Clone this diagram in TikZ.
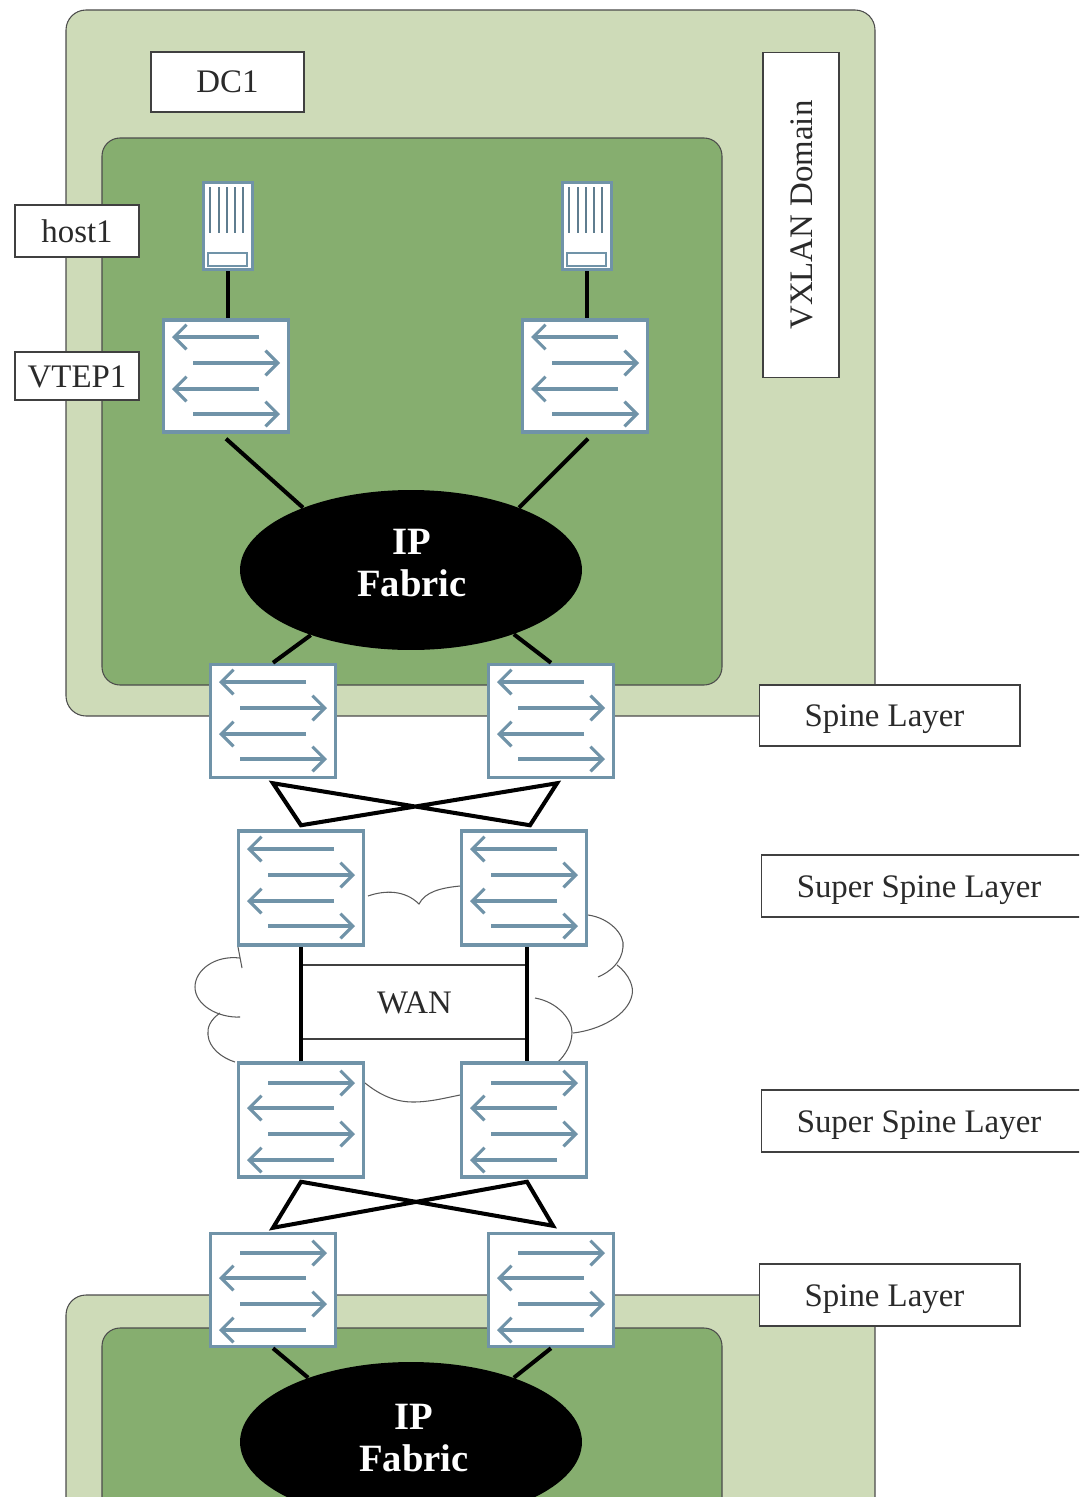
\documentclass[tikz,border=0pt]{standalone}
\usepackage{fontspec}
\setmainfont{Liberation Serif}
\usetikzlibrary{arrows.meta, positioning, shapes.geometric, calc}
\definecolor{dcouter}{HTML}{CEDBB8}
\definecolor{dcinner}{HTML}{86AE6F}
\definecolor{swblue}{HTML}{7093A8}
\definecolor{labeltext}{HTML}{2A2A2A}
\newcommand{\swleft}[2]{\draw[swarr] ($(#1)+(33,#2)$) -- ($(#1)+(-54,#2)$);}
\newcommand{\swright}[2]{\draw[swarr] ($(#1)+(-33,#2)$) -- ($(#1)+(54,#2)$);}

\begin{document}
\begin{tikzpicture}[
    x=0.02cm, y=-0.02cm,
    outerbox/.style={draw=black!70, line width=0.6pt, fill=dcouter, rounded corners=0.4cm},
    innerbox/.style={draw=black!70, line width=0.6pt, fill=dcinner, rounded corners=0.36cm},
    swbox/.style={draw=swblue, line width=2pt, fill=white, minimum width=2.5cm, minimum height=2.24cm, inner sep=0pt},
    hostbox/.style={draw=swblue, line width=1.8pt, fill=white, minimum width=0.98cm, minimum height=1.74cm, inner sep=0pt},
    swarr/.style={-{Straight Barb[length=7pt, width=14pt]}, line width=1.8pt, swblue},
    link/.style={line width=2.3pt, black},
    cloudline/.style={line width=0.6pt, black!65},
    lbl/.style={draw=black!75, line width=0.6pt, fill=white, text=labeltext, inner sep=0pt, text height=0.44cm, text depth=0cm, font=\fontsize{18.7}{22}\selectfont},
    fabric/.style={ellipse, fill=black, minimum width=6.84cm, minimum height=3.2cm, inner sep=0pt},
    fabrictext/.style={text=white, align=center, inner sep=0pt, font=\fontsize{22}{24}\selectfont\bfseries}
]
\clip (0, 0) rectangle (1079, 1497);

% ---- Data centre areas ----
\draw[outerbox] (66, 10) rectangle (875, 716);
\draw[innerbox] (102, 138) rectangle (722, 685);
\draw[outerbox] (66, 1295) rectangle (875, 1560);
\draw[innerbox] (102, 1328) rectangle (722, 1560);

% ---- WAN cloud ----
\draw[cloudline] (368, 896) .. controls (385, 890) and (405, 890) .. (419, 904)
    .. controls (425, 892) and (440, 888) .. (460, 886);
\draw[cloudline] (588, 915) .. controls (610, 918) and (625, 935) .. (623, 947)
    .. controls (622, 962) and (610, 972) .. (598, 977);
\draw[cloudline] (617, 965) .. controls (630, 975) and (634, 988) .. (632, 995)
    .. controls (628, 1015) and (600, 1030) .. (573, 1033);
\draw[cloudline] (535, 998) .. controls (558, 1002) and (572, 1020) .. (572, 1032)
    .. controls (572, 1045) and (565, 1055) .. (558, 1062);
\draw[cloudline] (365, 1083) .. controls (380, 1095) and (395, 1102) .. (413, 1102)
    .. controls (430, 1102) and (445, 1098) .. (460, 1095);
\draw[cloudline] (238, 947) -- (242, 968);
\draw[cloudline] (240, 958) .. controls (215, 955) and (195, 970) .. (195, 987)
    .. controls (195, 1005) and (218, 1018) .. (240, 1017);
\draw[cloudline] (220, 1013) .. controls (210, 1020) and (207, 1028) .. (208, 1035)
    .. controls (209, 1048) and (222, 1058) .. (235, 1062);

% ---- Hosts ----
\node[hostbox] (hosta) at (228, 226) {};
\node[hostbox] (hostb) at (587, 226) {};
\foreach \hs in {hosta, hostb} {
    \foreach \dx in {-18, -9, -1, 7, 15}
        \draw[swblue!85!black, line width=1.2pt] ($(\hs)+(\dx, -39)$) -- ($(\hs)+(\dx, 7)$);
    \draw[swblue, line width=0.7pt] ($(\hs)+(-20, 27)$) rectangle ($(\hs)+(19, 40)$);
}

% ---- Switches ----
\node[swbox] (vtepa) at (226, 376) {};
\node[swbox] (vtepb) at (585, 376) {};
\node[swbox, minimum height=2.26cm] (spinea) at (273, 721) {};
\node[swbox, minimum height=2.26cm] (spineb) at (551, 721) {};
\node[swbox, minimum height=2.28cm] (supa) at (301, 888) {};
\node[swbox, minimum height=2.28cm] (supb) at (524, 888) {};
\node[swbox, minimum height=2.28cm] (supc) at (301, 1120) {};
\node[swbox, minimum height=2.28cm] (supd) at (524, 1120) {};
\node[swbox, minimum height=2.26cm] (spinec) at (273, 1290) {};
\node[swbox, minimum height=2.26cm] (spined) at (551, 1290) {};

\foreach \sw in {vtepa, vtepb, spinea, spineb, supa, supb} {
    \swleft{\sw}{-39}
    \swright{\sw}{-13}
    \swleft{\sw}{13}
    \swright{\sw}{38}
}
\foreach \sw in {supc, supd, spinec, spined} {
    \swright{\sw}{-37}
    \swleft{\sw}{-12}
    \swright{\sw}{14}
    \swleft{\sw}{40}
}

% ---- IP fabrics ----
\node[fabric] (fabrica) at (411, 570) {};
\node[fabrictext] (fabrictexta) at (412, 563) {IP\\Fabric};
\node[fabric] (fabricb) at (411, 1442) {};
\node[fabrictext] (fabrictextb) at (414, 1438) {IP\\Fabric};

% ---- Links ----
\draw[link] (hosta.south) -- (hosta.south |- vtepa.north);
\draw[link] (hostb.south) -- (hostb.south |- vtepb.north);
\draw[link] ([yshift=-0.1cm]vtepa.south) -- (fabrica.150);
\draw[link] ([yshift=-0.1cm, xshift=0.06cm]vtepb.south) -- (fabrica.30);
\draw[link] (spinea.north) -- (fabrica.213);
\draw[link] (spineb.north) -- (fabrica.328);
\draw[link] (spinec.south) -- (fabricb.148);
\draw[link] (spined.south) -- (fabricb.32);

% ---- Crossed links ----
\draw[link, line join=miter] ([yshift=-0.08cm]spinea.south) -- ([yshift=0.08cm]supa.north)
    -- ([xshift=0.12cm, yshift=-0.08cm]spineb.south) -- ([xshift=0.12cm, yshift=0.08cm]supb.north) -- cycle;
\draw[link, line join=miter] ([yshift=-0.06cm]supc.south) -- ([yshift=0.08cm]spinec.north)
    -- ([xshift=0.06cm, yshift=-0.06cm]supd.south) -- ([xshift=0.04cm, yshift=0.12cm]spined.north) -- cycle;

% ---- WAN ----
\node[lbl, fill=none, minimum width=4.5cm, minimum height=1.48cm] (wan) at (414.5, 1002) {WAN};
\draw[link] (supa.south) -- (supc.north);
\draw[link] ([xshift=0.06cm]supb.south) -- ([xshift=0.06cm]supd.north);

% ---- Labels ----
\node[lbl, minimum width=3.06cm, minimum height=1.2cm] (dc) at (227.5, 82) {DC1};
\node[lbl, minimum width=2.48cm, minimum height=1.04cm] (host) at (77, 231) {host1};
\node[lbl, minimum width=2.48cm, minimum height=0.96cm] (vtep) at (77, 376) {VTEP1};
\node[lbl, minimum width=6.52cm, minimum height=1.52cm, rotate=90] (vxlan) at (801, 215) {VXLAN Domain};
\node[lbl, minimum width=5.22cm, minimum height=1.22cm] (spinelabela) at (889.5, 715.5) {Spine Layer\kern0.2cm};
\node[lbl, minimum width=6.4cm, minimum height=1.24cm] (suplabela) at (921, 886) {Super Spine Layer\kern0.08cm};
\node[lbl, minimum width=6.4cm, minimum height=1.24cm] (suplabelb) at (921, 1121) {Super Spine Layer\kern0.08cm};
\node[lbl, minimum width=5.22cm, minimum height=1.24cm] (spinelabelb) at (889.5, 1295) {Spine Layer\kern0.2cm};

\end{tikzpicture}
\end{document}
